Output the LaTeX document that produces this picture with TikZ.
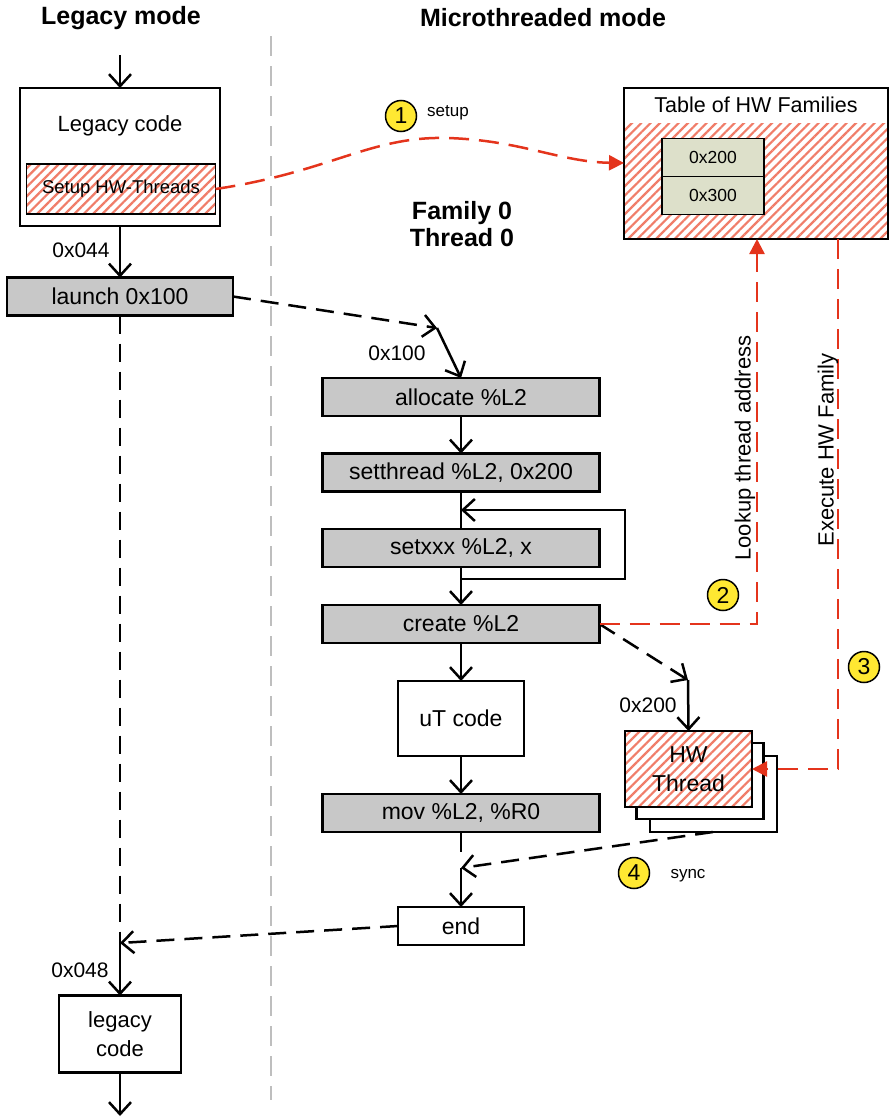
\documentclass[tikz,border=0pt]{standalone}
\usepackage{fontspec}
\setmainfont{Liberation Sans}
\usetikzlibrary{arrows.meta,patterns.meta}
\definecolor{redl}{RGB}{228,52,28}
\definecolor{hatchc}{RGB}{240,125,105}
\definecolor{gfill}{RGB}{200,200,200}
\definecolor{tfill}{RGB}{221,224,202}
\definecolor{yel}{RGB}{255,232,50}
\definecolor{divc}{RGB}{190,190,190}
\begin{document}
\begin{tikzpicture}[x=1pt,y=-1pt,
  every node/.style={inner sep=0pt, outer sep=0pt},
  box/.style={draw, line width=2.5pt, fill=white},
  gbox/.style={draw, line width=2.5pt, fill=gfill, minimum width=277pt, minimum height=38pt, font=\fontsize{23}{26}\selectfont},
  wbox/.style={draw, line width=2.5pt, fill=white, font=\fontsize{23}{29}\selectfont, align=center},
  hatched/.style={preaction={fill=white}, pattern={Lines[angle=45,distance=6.6pt,line width=2.2pt]}, pattern color=hatchc},
  barb/.style={-{Straight Barb[length=12pt,width=22pt,line width=2.5pt]}},
  flow/.style={line width=2.5pt, barb},
  dashln/.style={line width=2.5pt, dash pattern=on 18pt off 10pt},
  redd/.style={draw=redl, line width=2.5pt, dash pattern=on 20pt off 10pt},
  redtip/.style={-{Triangle[length=15pt,width=15pt]}},
  lab/.style={font=\fontsize{21}{24}\selectfont},
  circ/.style={circle, draw, line width=1.5pt, fill=yel, minimum size=31pt, font=\fontsize{23}{24}\selectfont},
  small/.style={font=\fontsize{17}{20}\selectfont},
  ttl/.style={font=\bfseries\fontsize{25}{28}\selectfont}
]
\useasboundingbox (0,0) rectangle (890,1119);

% titles and divider
\node[ttl] (t1) at (121,18) {Legacy mode};
\node[ttl] (t2) at (543,18) {Microthreaded mode};
\draw[divc, line width=2pt, dash pattern=on 20pt off 10pt] (271,36) -- (271,1100);

% legacy column
\coordinate (in0) at (120,55);
\node[box, minimum width=200pt, minimum height=138pt] (leg) at (120,157) {};
\node[font=\fontsize{22}{26}\selectfont] (legt) at (120,126) {Legacy code};
\node[draw, line width=1.5pt, hatched, minimum width=189pt, minimum height=50pt, font=\fontsize{18.5}{22}\selectfont] (setup) at (121,189) {Setup HW-Threads};
\node[gbox, minimum width=226pt] (launch) at (120,296.5) {launch 0x100};
\draw[flow] (in0) -- (leg.north);
\draw[flow] (leg.south) -- (launch.north);
\node[lab] (l044) at (81,250) {0x044};
\coordinate (j1) at (120,943);
\node[wbox, minimum width=122pt, minimum height=77pt, font=\fontsize{22}{29}\selectfont] (lc) at (120,1034) {legacy\\code};
\coordinate (out) at (120,1116);
\draw[dashln] (launch.south) -- (j1);
\draw[flow] (j1) -- (lc.north);
\draw[flow] (lc.south) -- (out);
\node[lab] (l048) at (80,970) {0x048};

% microthreaded column
\node[gbox] (alloc) at (461,397) {allocate \%L2};
\node[gbox] (setthr) at (461,472.5) {setthread \%L2, 0x200};
\node[gbox] (setx) at (461,548) {setxxx \%L2, x};
\node[gbox] (create) at (461,624) {create \%L2};
\node[wbox, minimum width=126pt, minimum height=75pt] (ut) at (461,718.5) {uT code};
\node[gbox] (mov) at (461,813) {mov \%L2, \%R0};
\node[wbox, minimum width=126pt, minimum height=38pt] (endb) at (461,926) {end};

\coordinate (j2) at (437,328);
\draw[dashln, barb] (launch.east) -- (j2);
\draw[flow] (j2) -- (alloc.north);
\node[lab] (l100) at (397,353) {0x100};

\draw[flow] (alloc.south) -- (setthr.north);
\draw[line width=2.5pt] (setthr.south) -- (setx.north);
\coordinate (lp1) at (461,579);
\coordinate (lp2) at (625,579);
\coordinate (lp3) at (625,510);
\coordinate (lp4) at (461,510);
\draw[flow] (lp1) -- (lp2) -- (lp3) -- (lp4);
\draw[flow] (setx.south) -- (create.north);
\draw[flow] (create.south) -- (ut.north);
\draw[flow] (ut.south) -- (mov.north);
\coordinate (j5) at (461,852);
\coordinate (j3) at (461,868);
\draw[line width=2.5pt] (mov.south) -- (j5);
\draw[flow] (j3) -- (endb.north);
\draw[dashln, barb] (endb.west) -- (j1);

\node[ttl, align=center, font=\bfseries\fontsize{25}{27}\selectfont] (fam) at (462,224) {Family 0\\Thread 0};

% HW threads
\node[box, minimum width=127pt, minimum height=76pt] (hw3) at (713.5,794) {};
\node[box, minimum width=127pt, minimum height=76pt] (hw2) at (700,781) {};
\node[draw, line width=2.5pt, hatched, minimum width=127pt, minimum height=76pt, align=center, font=\fontsize{23}{29}\selectfont] (hw1) at (688.5,769) {HW\\Thread};
\coordinate (j4) at (688,680);
\draw[dashln, barb] (create.east) -- (j4);
\draw[flow] (j4) -- (hw1.north);
\node[lab] (l200) at (648,705) {0x200};
\coordinate (hs) at (713,832);
\draw[dashln, barb] (hs) -- (j3);

% table of HW families
\fill[hatched] (624,123) rectangle (888,239);
\node[draw, line width=1.5pt, minimum width=264pt, minimum height=151pt] (tbl) at (756,163.5) {};
\node[font=\fontsize{21.5}{24}\selectfont] (tblt) at (756,105) {Table of HW Families};
\node[draw, line width=1.5pt, fill=tfill, minimum width=102pt, minimum height=38pt, font=\fontsize{17.5}{20}\selectfont] (t200) at (713,157.5) {0x200};
\node[draw, line width=1.5pt, fill=tfill, minimum width=102pt, minimum height=38pt, font=\fontsize{17.5}{20}\selectfont] (t300) at (713,195.5) {0x300};

% red connectors
\coordinate (tin) at (624,163);
\draw[redd, redtip] (setup.east) .. controls (330,172) and (370,136) .. (447,138) .. controls (520,140) and (560,162) .. (tin);
\coordinate (lk) at (757,624);
\coordinate (tb1) at (757,239);
\draw[redd, redtip] (create.east) -- (lk) -- (tb1);
\coordinate (tb2) at (838,239);
\coordinate (ex) at (838,769);
\draw[redd, redtip] (tb2) -- (ex) -- (hw1.east);
\node[rotate=90, font=\fontsize{22}{26}\selectfont] (lkt) at (745,448) {Lookup thread address};
\node[rotate=90, font=\fontsize{22}{26}\selectfont] (ext) at (828,450) {Execute HW Family};

% numbered circles
\node[circ] (c1) at (401,116) {1};
\node[small] (su) at (448,113) {setup};
\node[circ] (c2) at (723,595) {2};
\node[circ] (c3) at (864,667) {3};
\node[circ] (c4) at (634,873) {4};
\node[small] (sy) at (688,876) {sync};
\end{tikzpicture}
\end{document}
